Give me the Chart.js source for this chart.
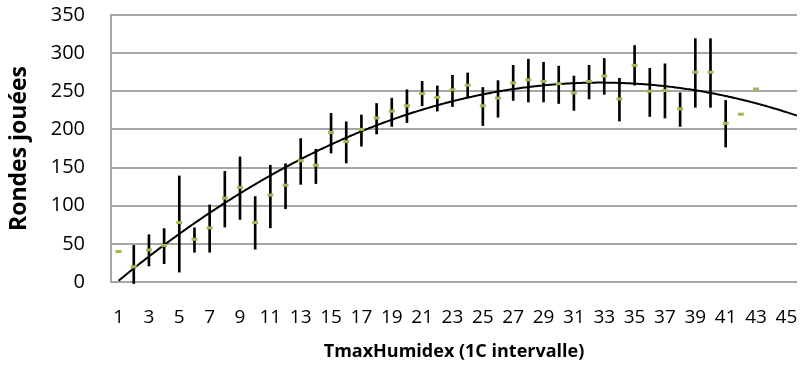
<!DOCTYPE html>
<html lang="fr">
<head>
<meta charset="utf-8">
<title>Rondes jouées selon TmaxHumidex</title>
<script src="https://cdn.jsdelivr.net/npm/chart.js@4.4.1/dist/chart.umd.min.js"></script>
<style>
  html, body { margin: 0; padding: 0; background: #ffffff; }
  #wrap { width: 803px; height: 365px; }
</style>
</head>
<body>
<div id="wrap"><canvas id="chart" width="803" height="365"></canvas></div>
<script>
// TmaxHumidex intervals (1 °C each)
const categories = Array.from({ length: 45 }, (_, i) => i + 1);

// Mean number of rounds played per interval (null = no data)
const meanRounds = [
  40, 20, 42, 48, 78, 56, 71, 110, 124, 78,
  114, 127, 159, 153, 196, 184, 200, 215, 224, 231,
  247, 242, 252, 258, 231, 241, 261, 265, 263, 260,
  248, 263, 270, 240, 284, 250, 251, 227, 275, 275,
  208, 220, 253, null, null
];

// Lower / upper ends of the error bars (null = no bar)
const lowRounds = [
  null, -2, 21, 24, 13, 39, 39, 72, 82, 43,
  71, 96, 128, 129, 169, 156, 178, 194, 204, 209,
  231, 224, 230, 241, 205, 216, 238, 236, 236, 234,
  225, 240, 246, 211, 258, 217, 215, 204, 229, 229,
  177, null, null, null, null
];
const highRounds = [
  null, 48, 62, 70, 139, 71, 101, 145, 164, 112,
  153, 155, 188, 174, 221, 210, 219, 234, 241, 252,
  263, 257, 271, 274, 255, 264, 284, 292, 288, 283,
  270, 284, 293, 267, 310, 280, 286, 248, 319, 319,
  238, null, null, null, null
];

// Axis tick labels
const xTickLabels = categories.filter(c => c % 2 === 1);
const yTickValues = [0, 50, 100, 150, 200, 250, 300, 350];

// Least-squares polynomial (order 2) trend of the means
function polyFit(xs, ys, order) {
  const n = order + 1;
  const A = Array.from({ length: n }, () => new Array(n + 1).fill(0));
  xs.forEach((x, k) => {
    for (let r = 0; r < n; r++) {
      for (let c = 0; c < n; c++) A[r][c] += Math.pow(x, r + c);
      A[r][n] += ys[k] * Math.pow(x, r);
    }
  });
  for (let p = 0; p < n; p++) {
    let best = p;
    for (let r = p + 1; r < n; r++) if (Math.abs(A[r][p]) > Math.abs(A[best][p])) best = r;
    [A[p], A[best]] = [A[best], A[p]];
    for (let r = 0; r < n; r++) {
      if (r === p) continue;
      const f = A[r][p] / A[p][p];
      for (let c = p; c <= n; c++) A[r][c] -= f * A[p][c];
    }
  }
  return A.map((row, i) => row[n] / row[i]);
}

const meanPoints = [];
const barPoints = [];
categories.forEach((c, i) => {
  if (meanRounds[i] !== null) meanPoints.push({ x: c, y: meanRounds[i] });
  if (lowRounds[i] !== null) barPoints.push({ x: c, y: [lowRounds[i], highRounds[i]] });
});

const coef = polyFit(meanPoints.map(p => p.x), meanPoints.map(p => p.y), 2);
const X_MIN = 0.5, X_MAX = 45.7;
const trendPoints = [];
for (let x = 1; x <= X_MAX + 1e-9; x += 0.1) {
  trendPoints.push({ x, y: coef[0] + coef[1] * x + coef[2] * x * x });
}

const FONT = "'Open Sans', 'DejaVu Sans', sans-serif";
const GRID = '#a6a6a6';

new Chart(document.getElementById('chart'), {
  type: 'bar',
  data: {
    datasets: [
      {
        type: 'line',
        label: 'Moyenne',
        data: meanPoints,
        showLine: false,
        pointStyle: 'line',
        pointRadius: 3,
        pointHoverRadius: 3,
        pointBorderWidth: 3,
        borderColor: '#9bbb59',
        pointBorderColor: '#9bbb59',
        order: 1
      },
      {
        type: 'line',
        label: 'Tendance',
        data: trendPoints,
        borderColor: '#000000',
        borderWidth: 2,
        pointRadius: 0,
        tension: 0,
        order: 2
      },
      {
        type: 'bar',
        label: 'Intervalle',
        data: barPoints,
        backgroundColor: '#000000',
        borderWidth: 0,
        barThickness: 2,
        clip: false,
        order: 3
      }
    ]
  },
  options: {
    responsive: false,
    animation: false,
    events: [],
    layout: { padding: { top: 15, right: 0, bottom: 0, left: 0 } },
    plugins: { legend: { display: false }, tooltip: { enabled: false } },
    scales: {
      x: {
        type: 'linear',
        min: X_MIN,
        max: X_MAX,
        offset: false,
        grid: {
          display: true,
          drawOnChartArea: false,
          offset: false,
          drawTicks: true,
          tickLength: 22,
          tickColor: 'rgba(0,0,0,0)',
          color: 'rgba(0,0,0,0)'
        },
        border: { display: false },
        afterBuildTicks: s => { s.ticks = xTickLabels.map(v => ({ value: v })); },
        afterFit: s => { s.height = 83; },
        ticks: {
          autoSkip: false,
          maxRotation: 0,
          minRotation: 0,
          padding: 2,
          color: '#000000',
          font: { family: FONT, size: 19 },
          callback: v => String(v)
        },
        title: {
          display: true,
          text: 'TmaxHumidex (1C intervalle)',
          color: '#000000',
          font: { family: FONT, size: 18, weight: 'bold' },
          padding: { top: 0, bottom: 2 }
        }
      },
      y: {
        min: 0,
        max: 350,
        afterBuildTicks: s => { s.ticks = yTickValues.map(v => ({ value: v })); },
        afterFit: s => { s.width = 111; },
        grid: {
          color: GRID,
          lineWidth: 2,
          drawTicks: true,
          tickLength: 24,
          tickColor: 'rgba(0,0,0,0)'
        },
        border: { display: true, color: GRID, width: 2 },
        ticks: {
          padding: 2,
          color: '#000000',
          font: { family: FONT, size: 20 }
        },
        title: {
          display: true,
          text: 'Rondes jouées',
          color: '#000000',
          font: { family: FONT, size: 23, weight: 'bold' },
          padding: { top: 6, bottom: 0 }
        }
      }
    }
  }
});
</script>
</body>
</html>
